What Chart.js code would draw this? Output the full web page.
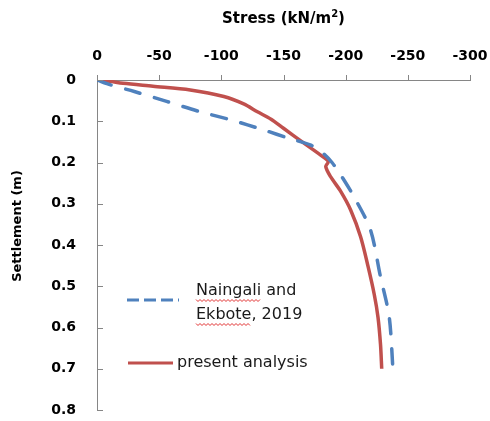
<!DOCTYPE html>
<html>
<head>
<meta charset="utf-8">
<script src="https://cdn.jsdelivr.net/npm/chart.js@4.4.1/dist/chart.umd.min.js"></script>
<style>
  html, body { margin: 0; padding: 0; background: #fff; }
  #wrap { width: 490px; height: 421px; }
</style>
</head>
<body>
<div id="wrap"><canvas id="settlementChart" width="490" height="421"></canvas></div>
<script>
// data (stress kN/m2, settlement m)
const naingaliStress = [0, -11, -30, -56, -83, -108, -134, -155, -172, -182, -189, -196, -208, -220, -228, -235, -238];
const naingaliSettle = [0, 0.012, 0.028, 0.052, 0.077, 0.097, 0.121, 0.142, 0.158, 0.178, 0.2, 0.23, 0.29, 0.364, 0.477, 0.574, 0.70];
const presentStress = [0, -10, -21, -45, -75, -102, -118, -129, -140, -150, -165, -178, -183, -186, -184, -188, -196, -204, -212, -218, -223, -226, -228, -229];
const presentSettle = [0, 0.003, 0.008, 0.015, 0.024, 0.04, 0.058, 0.077, 0.095, 0.117, 0.15, 0.178, 0.189, 0.198, 0.21, 0.235, 0.27, 0.315, 0.38, 0.452, 0.52, 0.575, 0.64, 0.70];
const seriesNames = ['Naingali and Ekbote, 2019', 'present analysis'];
const stressTicks = [0, -50, -100, -150, -200, -250, -300];
const settleTicks = [0, 0.1, 0.2, 0.3, 0.4, 0.5, 0.6, 0.7, 0.8];

const toPoints = (xs, ys) => xs.map((x, i) => ({ x: x, y: ys[i] }));
const axisGrey = '#868686';
const blue = '#4F81BD';
const red = '#C0504D';
const tickFont = { family: '"DejaVu Sans", sans-serif', size: 14, weight: 'bold' };

// titles, tick marks and the in-plot legend
const extras = {
    id: 'extras',
    afterDraw(chart) {
        const c = chart.ctx;
        const xs = chart.scales.x, ys = chart.scales.y;
        const area = chart.chartArea;
        c.save();
        c.strokeStyle = axisGrey;
        c.lineWidth = 1;
        c.beginPath();
        stressTicks.forEach(v => {
            const px = Math.round(xs.getPixelForValue(v)) + 0.5;
            c.moveTo(px, area.top);
            c.lineTo(px, area.top - 5);
        });
        settleTicks.forEach(v => {
            const py = Math.round(ys.getPixelForValue(v)) + 0.5;
            c.moveTo(area.left, py);
            c.lineTo(area.left + 6, py);
        });
        c.stroke();

        // axis titles
        c.fillStyle = '#000';
        c.textBaseline = 'middle';
        const big = 'bold 15px "DejaVu Sans", sans-serif';
        const sup = 'bold 10px "DejaVu Sans", sans-serif';
        c.font = big;
        const t1 = 'Stress (kN/m';
        const w1 = c.measureText(t1).width;
        const w3 = c.measureText(')').width;
        c.font = sup;
        const w2 = c.measureText('2').width;
        const sx = (area.left + area.right) / 2 - (w1 + w2 + w3) / 2;
        c.textAlign = 'left';
        c.font = big;
        c.fillText(t1, sx, 19);
        c.fillText(')', sx + w1 + w2, 19);
        c.font = sup;
        c.fillText('2', sx + w1, 14);

        c.save();
        c.translate(18, 226);
        c.rotate(-Math.PI / 2);
        c.textAlign = 'center';
        c.font = 'bold 13px "DejaVu Sans", sans-serif';
        c.fillText('Settlement (m)', 0, 0);
        c.restore();

        // legend
        c.lineWidth = 3;
        c.strokeStyle = blue;
        c.setLineDash([12, 5]);
        c.beginPath();
        c.moveTo(127, 300);
        c.lineTo(179, 300);
        c.stroke();
        c.setLineDash([]);
        c.strokeStyle = red;
        c.beginPath();
        c.moveTo(128, 363);
        c.lineTo(173, 363);
        c.stroke();

        c.font = '16px "DejaVu Sans", sans-serif';
        c.fillStyle = '#1a1a1a';
        c.textAlign = 'left';
        c.fillText('Naingali and', 196, 291);
        c.fillText('Ekbote, 2019', 196, 315);
        c.fillText(seriesNames[1], 177, 363);

        // spell-check squiggles under the author names
        const squiggle = (x0, x1, y) => {
            c.strokeStyle = '#e03030';
            c.lineWidth = 1;
            c.beginPath();
            for (let x = x0, k = 0; x <= x1; x += 2, k++) {
                const yy = y + (k % 2 ? 1.5 : -0.5);
                if (k === 0) c.moveTo(x, yy); else c.lineTo(x, yy);
            }
            c.stroke();
        };
        squiggle(196, 196 + c.measureText('Naingali').width, 300);
        squiggle(196, 196 + c.measureText('Ekbote').width, 324);
        c.restore();
    }
};

const ctx = document.getElementById('settlementChart').getContext('2d');
const settlementChart = new Chart(ctx, {
    type: 'scatter',
    data: {
        datasets: [{
            label: seriesNames[0],
            data: toPoints(naingaliStress, naingaliSettle),
            showLine: true,
            borderColor: blue,
            borderWidth: 3.5,
            borderDash: [15, 15],
            borderCapStyle: 'round',
            pointRadius: 0,
            tension: 0.3
        }, {
            label: seriesNames[1],
            data: toPoints(presentStress, presentSettle),
            showLine: true,
            borderColor: red,
            borderWidth: 3.5,
            pointRadius: 0,
            tension: 0.3
        }]
    },
    options: {
        responsive: false,
        animation: false,
        layout: { padding: { top: 0, right: 20, bottom: 11, left: 0 } },
        plugins: {
            legend: { display: false },
            tooltip: { enabled: false }
        },
        scales: {
            x: {
                type: 'linear',
                position: 'top',
                reverse: true,
                min: -300,
                max: 0,
                afterBuildTicks: s => { s.ticks = stressTicks.map(v => ({ value: v })); },
                afterFit: s => { s.height = 80; },
                grid: { display: true, drawOnChartArea: false, drawTicks: true, tickLength: 15, color: 'rgba(0,0,0,0)' },
                border: { display: true, color: axisGrey, width: 1 },
                ticks: { padding: 0, color: '#000', font: tickFont }
            },
            y: {
                type: 'linear',
                reverse: true,
                min: 0,
                max: 0.8,
                afterBuildTicks: s => { s.ticks = settleTicks.map(v => ({ value: v })); },
                afterFit: s => { s.width = 97; },
                grid: { display: true, drawOnChartArea: false, drawTicks: true, tickLength: 21, color: 'rgba(0,0,0,0)' },
                border: { display: true, color: axisGrey, width: 1 },
                ticks: { padding: 0, color: '#000', font: tickFont }
            }
        }
    },
    plugins: [extras]
});
</script>
</body>
</html>
